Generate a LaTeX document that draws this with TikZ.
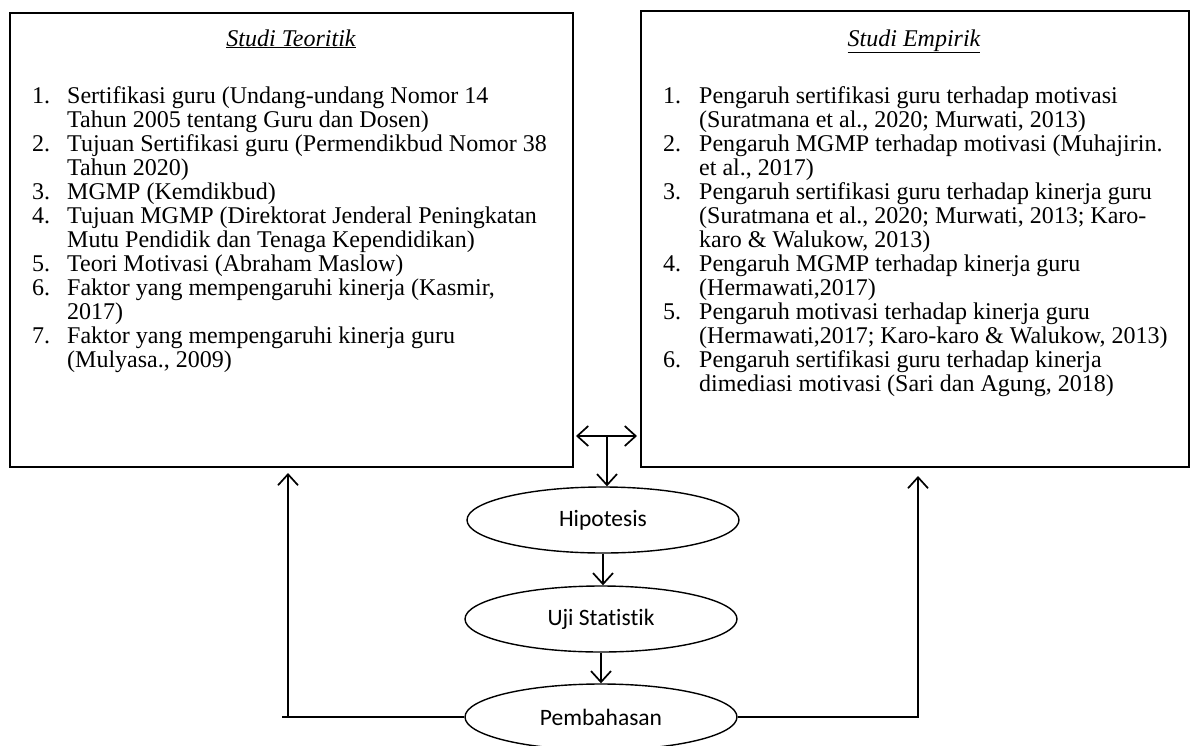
\documentclass[tikz,border=0pt]{standalone}
\usepackage{fontspec}
\setmainfont{Liberation Serif}
\newfontfamily\calib[Ligatures=NoCommon]{Carlito}
\usetikzlibrary{arrows.meta,shapes.geometric}
\begin{document}
\begin{tikzpicture}[x=1pt,y=-1pt,
  box/.style={draw, line width=1.8pt, inner sep=0, anchor=north west},
  oval/.style={draw, ellipse, line width=1.4pt, minimum width=272pt, minimum height=66pt, inner sep=0, font=\calib\fontsize{23.5}{26}\selectfont},
  ln/.style={line width=1.7pt},
  arr/.style={line width=1.7pt, -{Straight Barb[length=11pt,width=20pt]}},
  dbl/.style={line width=1.7pt, {Straight Barb[length=11pt,width=20pt]}-{Straight Barb[length=11pt,width=20pt]}},
  lst/.style={anchor=base west, inner sep=0, font=\fontsize{24}{24}\selectfont},
  ttl/.style={anchor=base, inner sep=0, font=\itshape\fontsize{24}{24}\selectfont}
]
\useasboundingbox (0,0) rectangle (1197,745);

% boxes
\node[box, minimum width=563pt, minimum height=454pt] (lbox) at (9,12) {};
\node[box, minimum width=548pt, minimum height=456pt] (rbox) at (640,10) {};

% titles
\node[ttl] (lttl) at (291,46) {\underline{Studi Teoritik}};
\node[ttl] (rttl) at (914,46) {\underline{Studi Empirik}};

% lists
\node[lst] (llist) at (32,103) {\begin{tabular}[t]{@{}p{35pt}@{}l@{}}
1. & Sertifikasi guru (Undang-undang Nomor 14\\
   & Tahun 2005 tentang Guru dan Dosen)\\
2. & Tujuan Sertifikasi guru (Permendikbud Nomor 38\\
   & Tahun 2020)\\
3. & MGMP (Kemdikbud)\\
4. & Tujuan MGMP (Direktorat Jenderal Peningkatan\\
   & Mutu Pendidik dan Tenaga Kependidikan)\\
5. & Teori Motivasi (Abraham Maslow)\\
6. & Faktor yang mempengaruhi kinerja (Kasmir,\\
   & 2017)\\
7. & Faktor yang mempengaruhi kinerja guru\\
   & (Mulyasa., 2009)
\end{tabular}};

\node[lst] (rlist) at (663,103) {\begin{tabular}[t]{@{}p{36pt}@{}l@{}}
1. & Pengaruh sertifikasi guru terhadap motivasi\\
   & (Suratmana et al., 2020; Murwati, 2013)\\
2. & Pengaruh MGMP terhadap motivasi (Muhajirin.\\
   & et al., 2017)\\
3. & Pengaruh sertifikasi guru terhadap kinerja guru\\
   & (Suratmana et al., 2020; Murwati, 2013; Karo-\\
   & karo \& Walukow, 2013)\\
4. & Pengaruh MGMP terhadap kinerja guru\\
   & (Hermawati,2017)\\
5. & Pengaruh motivasi terhadap kinerja guru\\
   & (Hermawati,2017; Karo-karo \& Walukow, 2013)\\
6. & Pengaruh sertifikasi guru terhadap kinerja\\
   & dimediasi motivasi (Sari dan Agung, 2018)
\end{tabular}};

% ellipses
\node[oval] (hip) at (603,520) {Hipotesis};
\node[oval] (uji) at (601,619) {Uji Statistik};
\node[oval] (pem) at (601,717) {Pembahasan};

% connectors
\coordinate (dl) at (576,436);
\coordinate (dr) at (637,436);
\coordinate (dj) at (607,436);
\draw[dbl] (dl) -- (dr);
\draw[arr] (dj) -- (dj |- hip.north);
\draw[arr] (hip.south) -- (hip.south |- uji.north);
\draw[arr] (uji.south) -- (uji.south |- pem.north);

\coordinate (lo) at (282,717);
\coordinate (lc) at (288,717);
\coordinate (lt) at (288,473);
\draw[ln] (pem.west) -- (lo);
\draw[arr] (lc) -- (lt);

\coordinate (rt) at (918,476);
\draw[arr] (pem.east) -| (rt);
\end{tikzpicture}
\end{document}
